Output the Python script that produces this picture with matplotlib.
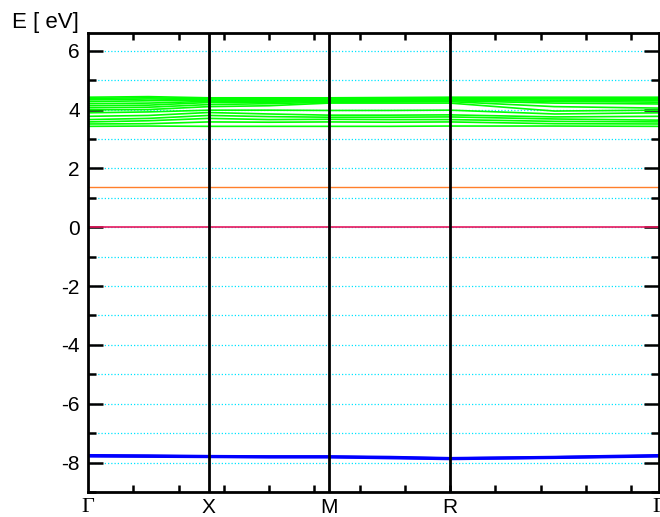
import numpy as np
import matplotlib
matplotlib.use('Agg')
from matplotlib import pyplot as plt
from matplotlib.ticker import MultipleLocator

# k-path: Gamma - X - M - R - Gamma (simple cubic, units of 2pi/a)
k_nodes = [0.0, 0.5, 1.0, 1.5, 2.366]
k_names = ['Γ', 'X', 'M', 'R', 'Γ']
# sample points: nodes plus one point halfway along each segment
k_pts = [0.0, 0.25, 0.5, 0.75, 1.0, 1.25, 1.5, 1.933, 2.366]

# conduction-like green bands (eV) at k_pts
green_bands = [
    [4.42, 4.44, 4.40, 4.40, 4.40, 4.41, 4.42, 4.42, 4.42],
    [4.38, 4.40, 4.37, 4.37, 4.38, 4.38, 4.40, 4.39, 4.38],
    [4.33, 4.36, 4.34, 4.34, 4.35, 4.35, 4.37, 4.36, 4.34],
    [4.27, 4.30, 4.32, 4.32, 4.32, 4.33, 4.34, 4.32, 4.30],
    [4.20, 4.22, 4.28, 4.28, 4.30, 4.30, 4.32, 4.28, 4.25],
    [4.13, 4.15, 4.24, 4.25, 4.27, 4.28, 4.30, 4.22, 4.19],
    [4.06, 4.08, 4.17, 4.20, 4.25, 4.26, 4.27, 4.10, 4.05],
    [3.99, 4.00, 4.10, 4.13, 4.22, 4.22, 4.22, 3.95, 3.98],
    [3.89, 3.92, 3.98, 3.98, 3.97, 3.97, 3.98, 3.85, 3.89],
    [3.77, 3.80, 3.90, 3.85, 3.81, 3.81, 3.82, 3.75, 3.77],
    [3.66, 3.70, 3.80, 3.76, 3.74, 3.74, 3.75, 3.68, 3.64],
    [3.58, 3.62, 3.70, 3.66, 3.67, 3.66, 3.66, 3.60, 3.58],
    [3.51, 3.52, 3.58, 3.57, 3.58, 3.57, 3.58, 3.52, 3.51],
    [3.43, 3.44, 3.43, 3.43, 3.43, 3.43, 3.44, 3.44, 3.43],
]
orange_band = [1.38, 1.38, 1.38, 1.38, 1.38, 1.38, 1.38, 1.38, 1.38]
red_band = [0.0, 0.0, 0.0, 0.0, 0.0, 0.0, 0.0, 0.0, 0.0]
blue_bands = [
    [-7.76, -7.77, -7.79, -7.80, -7.80, -7.82, -7.86, -7.82, -7.76],
    [-7.78, -7.79, -7.80, -7.81, -7.81, -7.84, -7.87, -7.83, -7.78],
]

y_min, y_max = -9, 6.6

plt.rcParams['font.family'] = ['Liberation Sans', 'DejaVu Sans']
plt.rcParams['axes.unicode_minus'] = False

fig = plt.figure(figsize=(6.6, 5.17), dpi=100)
ax = fig.add_axes([0.1333, 0.0484, 0.8652, 0.8876])

# grid lines at every integer
for e in range(-9, 7):
    ax.axhline(e, color='#00e5ff', lw=0.9, ls=(0, (1, 1.6)), zorder=1)

for b in green_bands:
    ax.plot(k_pts, b, color='#00ff00', lw=1.2, zorder=2)
ax.plot(k_pts, orange_band, color='#ff7f2a', lw=1.0, zorder=2)
ax.plot(k_pts, red_band, color='#e8175d', lw=1.2, zorder=2)
for b in blue_bands:
    ax.plot(k_pts, b, color='#0000ff', lw=2.2, zorder=2)

for k in k_nodes[1:-1]:
    ax.axvline(k, color='black', lw=2.0, zorder=3)

ax.set_xlim(k_nodes[0], k_nodes[-1])
ax.set_ylim(y_min, y_max)

ax.yaxis.set_major_locator(MultipleLocator(2))
ax.yaxis.set_minor_locator(MultipleLocator(1))
ax.set_xticks(k_nodes)
ax.set_xticklabels(k_names)
ax.xaxis.set_minor_locator(MultipleLocator(0.1876))

ax.tick_params(axis='both', which='both', direction='in', top=True, right=True,
               width=1.8, labelsize=15)
ax.tick_params(axis='y', which='major', length=11, pad=6)
ax.tick_params(axis='y', which='minor', length=6)
ax.tick_params(axis='x', which='major', length=0, pad=4)
ax.tick_params(axis='x', which='minor', length=5)

for lab, name in zip(ax.get_xticklabels(), k_names):
    if name == 'Γ':
        lab.set_family(['Liberation Serif', 'DejaVu Serif'])
        lab.set_fontsize(16)

for s in ax.spines.values():
    s.set_linewidth(2.0)

fig.text(0.018, 0.937, 'E [ eV]', fontsize=16, ha='left', va='bottom')

fig.savefig('out.png', dpi=100)
